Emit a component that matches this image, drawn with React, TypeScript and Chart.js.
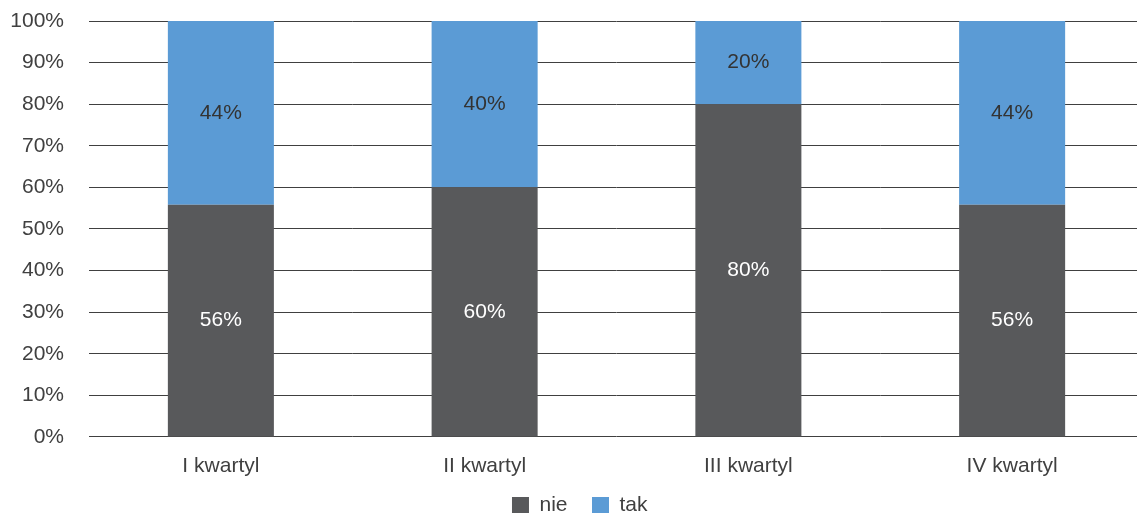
import React, { useEffect, useRef } from "react";
import { Chart, registerables } from "chart.js";

Chart.register(...registerables);

const categories = ["I kwartyl", "II kwartyl", "III kwartyl", "IV kwartyl"];
const nieValues = [55.8, 60, 80, 55.8];
const takValues = [44.2, 40, 20, 44.2];
const seriesNames = ["nie", "tak"];
const yTicks = [0, 10, 20, 30, 40, 50, 60, 70, 80, 90, 100];

const FONT = "'Liberation Sans', Arial, sans-serif";
const TEXT = "#404040";

const labelPlugin = {
  id: "segLabels",
  afterLayout(chart: any) {
    const lg = chart.legend;
    if (lg) {
      lg.left += 7.75;
      lg.right += 7.75;
      lg.top -= 8;
      lg.bottom -= 8;
    }
  },
  afterDatasetsDraw(chart: any) {
    const ctx = chart.ctx;
    ctx.save();
    ctx.font = `21px ${FONT}`;
    ctx.textAlign = "center";
    ctx.textBaseline = "middle";
    chart.data.datasets.forEach((ds: any, di: number) => {
      const meta = chart.getDatasetMeta(di);
      meta.data.forEach((bar: any, i: number) => {
        const v = ds.data[i];
        ctx.fillStyle = di === 0 ? "#ffffff" : "#333333";
        ctx.fillText(Math.round(v) + "%", bar.x, (bar.y + bar.base) / 2);
      });
    });
    ctx.restore();
  },
};

export default function App() {
  const ref = useRef<HTMLCanvasElement>(null);
  useEffect(() => {
    if (!ref.current) return;
    const chart = new Chart(ref.current, {
      type: "bar",
      data: {
        labels: categories,
        datasets: [
          {
            label: seriesNames[0],
            data: nieValues,
            backgroundColor: "#58595B",
            barPercentage: 0.402,
            categoryPercentage: 1,
          },
          {
            label: seriesNames[1],
            data: takValues,
            backgroundColor: "#5B9BD5",
            barPercentage: 0.402,
            categoryPercentage: 1,
          },
        ],
      },
      options: {
        responsive: false,
        animation: false,
        devicePixelRatio: 1,
        layout: { padding: { top: 21, left: 0, right: 6, bottom: 0 } },
        plugins: {
          tooltip: { enabled: false },
          legend: {
            position: "bottom",
            labels: {
              boxWidth: 17,
              boxHeight: 17,
              padding: 24.5,
              color: TEXT,
              font: { family: FONT, size: 21 },
            },
          },
        },
        scales: {
          x: {
            stacked: true,
            grid: { display: false, drawTicks: false },
            border: { display: false },
            ticks: {
              padding: 16.4,
              color: TEXT,
              font: { family: FONT, size: 21 },
            },
            afterFit: (s: any) => {
              s.height = 41.6;
            },
          },
          y: {
            stacked: true,
            min: 0,
            max: 100,
            grid: { color: "#404040", lineWidth: 1, drawTicks: false },
            border: { display: false },
            afterBuildTicks: (s: any) => {
              s.ticks = yTicks.map((v) => ({ value: v }));
            },
            ticks: {
              padding: 25,
              color: TEXT,
              font: { family: FONT, size: 21 },
              callback: (v: any) => v + "%",
            },
            afterFit: (s: any) => {
              s.width = 89;
              s.paddingTop = 0;
              s.paddingBottom = 0;
            },
          },
        },
      },
      plugins: [labelPlugin],
    });
    return () => chart.destroy();
  }, []);
  return (
    <div
      style={{
        position: "fixed",
        top: 0,
        left: 0,
        width: 1137,
        height: 513,
        overflow: "hidden",
        background: "#fff",
      }}
    >
      <canvas ref={ref} width={1150} height={534} style={{ width: 1150, height: 534 }} />
    </div>
  );
}
